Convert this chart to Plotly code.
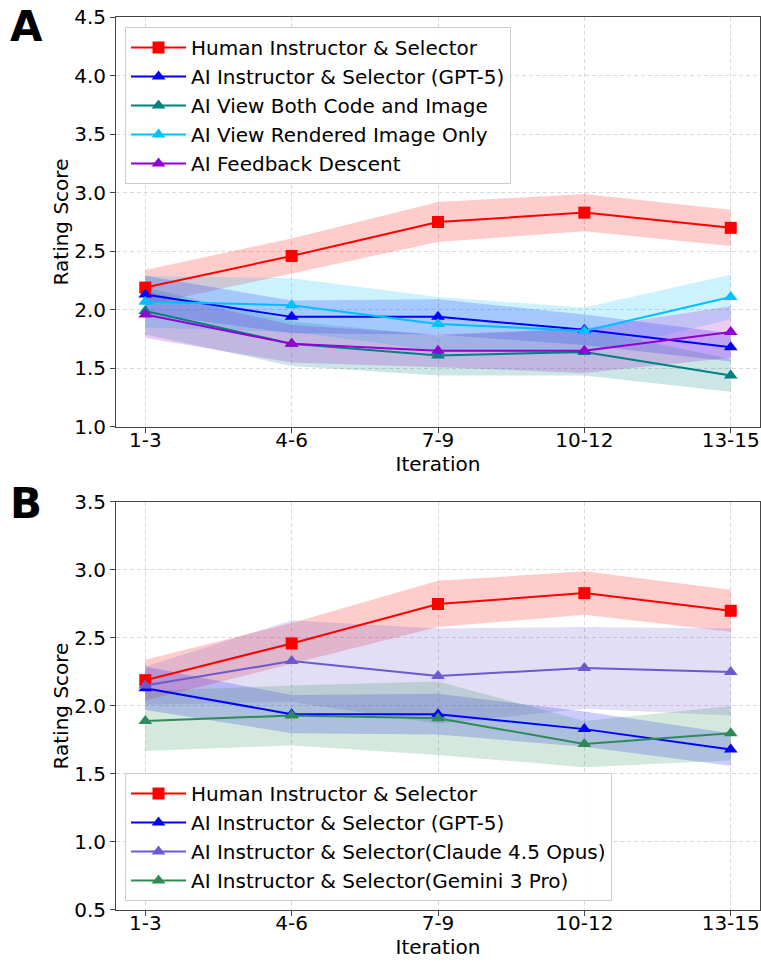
import plotly.graph_objects as go
from plotly.subplots import make_subplots

categories = ["1-3", "4-6", "7-9", "10-12", "13-15"]

# Panel A
human_mean = [2.19, 2.46, 2.75, 2.83, 2.70]
human_err = [0.15, 0.15, 0.17, 0.16, 0.155]
gpt5_mean = [2.13, 1.94, 1.94, 1.83, 1.68]
gpt5_err = [0.16, 0.14, 0.15, 0.13, 0.12]
both_mean = [1.99, 1.71, 1.61, 1.64, 1.44]
both_err = [0.20, 0.19, 0.17, 0.20, 0.14]
render_mean = [2.07, 2.04, 1.88, 1.82, 2.11]
render_err = [0.22, 0.23, 0.23, 0.20, 0.19]
feedback_mean = [1.96, 1.71, 1.65, 1.65, 1.81]
feedback_err = [0.20, 0.16, 0.14, 0.19, 0.22]

# Panel B (extra models)
claude_mean = [2.15, 2.33, 2.22, 2.28, 2.25]
claude_err = [0.14, 0.30, 0.35, 0.30, 0.32]
gemini_mean = [1.89, 1.93, 1.91, 1.72, 1.80]
gemini_err = [0.22, 0.22, 0.27, 0.17, 0.20]

series_a = [
    ("Human Instructor & Selector", human_mean, human_err, "red", "rgba(255,0,0,0.2)", "square"),
    ("AI Instructor & Selector (GPT-5)", gpt5_mean, gpt5_err, "blue", "rgba(0,0,255,0.2)", "triangle-up"),
    ("AI View Both Code and Image", both_mean, both_err, "#008080", "rgba(0,128,128,0.2)", "triangle-up"),
    ("AI View Rendered Image Only", render_mean, render_err, "#00BFFF", "rgba(0,191,255,0.2)", "triangle-up"),
    ("AI Feedback Descent", feedback_mean, feedback_err, "#9400D3", "rgba(148,0,211,0.2)", "triangle-up"),
]
series_b = [
    ("Human Instructor & Selector", human_mean, human_err, "red", "rgba(255,0,0,0.2)", "square"),
    ("AI Instructor & Selector (GPT-5)", gpt5_mean, gpt5_err, "blue", "rgba(0,0,255,0.2)", "triangle-up"),
    ("AI Instructor & Selector(Claude 4.5 Opus)", claude_mean, claude_err, "#6A5ACD", "rgba(106,90,205,0.2)", "triangle-up"),
    ("AI Instructor & Selector(Gemini 3 Pro)", gemini_mean, gemini_err, "#2E8B57", "rgba(46,139,87,0.2)", "triangle-up"),
]

fig = make_subplots(rows=2, cols=1)
FONT = "DejaVu Sans"
TXT = dict(family=FONT, size=20, color="black")

YA_DOM = [0.5409, 1.0]
YB_DOM = [0.0, 0.4569]
LABEL_SHIFT = 0.0012  # lift tick-label axes slightly, as matplotlib labels sit close to the spine


def add_series(series, row, legend):
    for name, m, e, col, fcol, sym in series:
        up = [a + b for a, b in zip(m, e)]
        lo = [a - b for a, b in zip(m, e)]
        fig.add_trace(go.Scatter(x=categories + categories[::-1], y=up + lo[::-1],
                                 fill="toself", fillcolor=fcol, line=dict(width=0),
                                 mode="lines", showlegend=False, hoverinfo="skip"),
                      row=row, col=1)
    for name, m, e, col, fcol, sym in series:
        fig.add_trace(go.Scatter(x=categories, y=m, mode="lines+markers", name=name,
                                 line=dict(color=col, width=2),
                                 marker=dict(symbol=sym, size=12, color=col),
                                 legend=legend),
                      row=row, col=1)


add_series(series_a, 1, "legend")
add_series(series_b, 2, "legend2")

# invisible carriers so the tick-label axes get drawn
idx = list(range(len(categories)))
fig.add_trace(go.Scatter(x=idx, y=human_mean, xaxis="x3", yaxis="y", mode="markers",
                         marker=dict(opacity=0), showlegend=False, hoverinfo="skip"))
fig.add_trace(go.Scatter(x=idx, y=human_mean, xaxis="x4", yaxis="y2", mode="markers",
                         marker=dict(opacity=0), showlegend=False, hoverinfo="skip"))

axis_common = dict(showline=True, mirror=True, linecolor="#444", linewidth=1,
                   ticks="outside", ticklen=5, tickcolor="#444",
                   showgrid=True, gridcolor="#d9d9d9", griddash="4px,3px", gridwidth=1,
                   tickfont=TXT, zeroline=False)

fig.update_xaxes(**axis_common, range=[-0.2, 4.2], type="category", showticklabels=False)
fig.update_yaxes(**axis_common, dtick=0.5, tickformat=".1f",
                 title=dict(text="Rating Score", font=TXT, standoff=0))
fig.update_yaxes(range=[1.0, 4.5], row=1, col=1)
fig.update_yaxes(range=[0.5, 3.5], row=2, col=1)

label_axis = dict(type="linear", range=[-0.2, 4.2], tickmode="array",
                  tickvals=idx, ticktext=categories,
                  showline=False, showgrid=False, zeroline=False, ticks="",
                  tickfont=TXT, anchor="free", domain=[0, 1],
                  title=dict(text="Iteration", font=TXT, standoff=5))

fig.update_layout(
    width=761, height=963,
    margin=dict(l=116, r=1, t=17, b=53),
    plot_bgcolor="white", paper_bgcolor="white",
    xaxis=dict(domain=[0, 1]), yaxis=dict(domain=YA_DOM),
    xaxis2=dict(domain=[0, 1]), yaxis2=dict(domain=YB_DOM),
    xaxis3=dict(**label_axis, overlaying="x", position=YA_DOM[0] + LABEL_SHIFT),
    xaxis4=dict(**label_axis, overlaying="x2", position=YB_DOM[0] + LABEL_SHIFT),
    font=TXT,
    legend=dict(x=0.014, y=0.9888, xanchor="left", yanchor="top", itemwidth=55,
                bgcolor="rgba(255,255,255,0.85)", bordercolor="#cccccc", borderwidth=1,
                font=TXT),
    legend2=dict(x=0.014, y=0.1534, xanchor="left", yanchor="top", itemwidth=55,
                 bgcolor="rgba(255,255,255,0.85)", bordercolor="#cccccc", borderwidth=1,
                 font=TXT),
    annotations=[
        dict(text="<b>A</b>", x=-0.168, y=1.019, xref="paper", yref="paper",
             xanchor="left", yanchor="top", showarrow=False,
             font=dict(family=FONT, size=42, color="black")),
        dict(text="<b>B</b>", x=-0.168, y=0.4553, xref="paper", yref="paper",
             xanchor="left", yanchor="middle", showarrow=False,
             font=dict(family=FONT, size=42, color="black")),
    ],
)

fig.write_html("out.html")
